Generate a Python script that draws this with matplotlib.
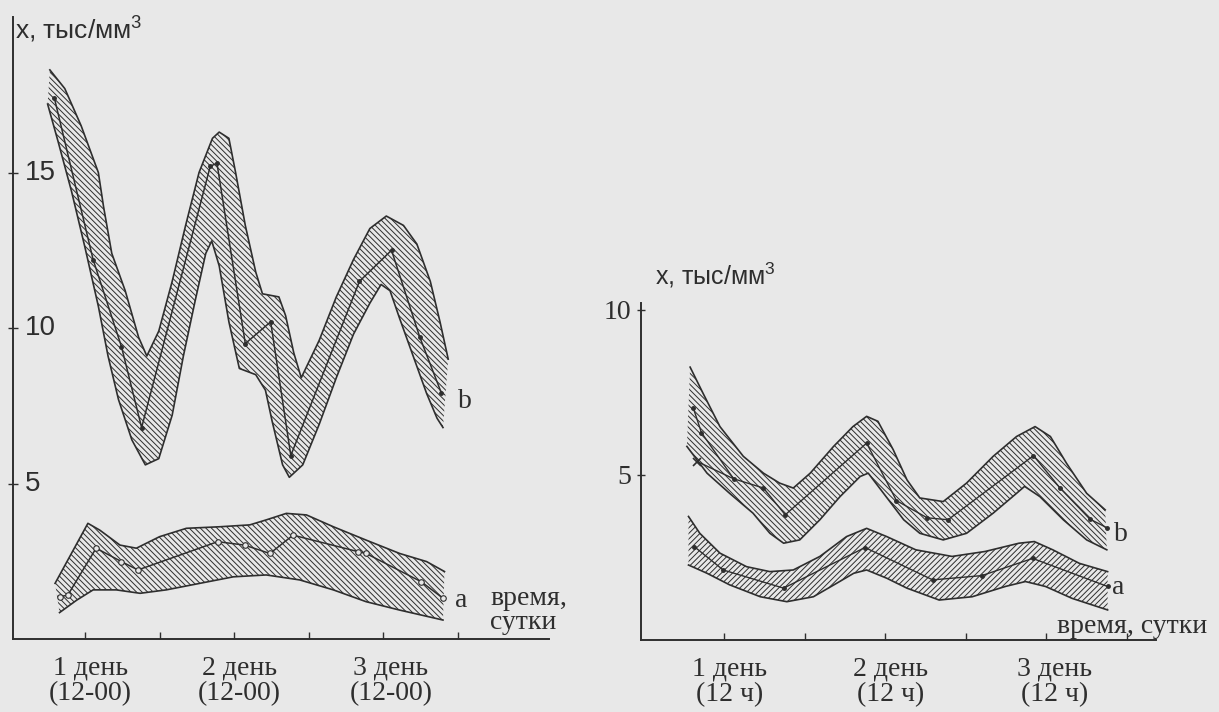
#!/usr/bin/env python
# -*- coding: utf-8 -*-

import matplotlib
matplotlib.use('Agg')
import matplotlib.pyplot as plt

INK = '#2e2e2e'
PAPER = '#e8e8e8'

# ---- left panel: x in half-days, y in тыс/мм3 ----
LB_X = [0.59, 1.11, 1.49, 1.76, 2.68, 2.77, 3.15, 3.49, 3.76, 4.68, 5.11, 5.49, 5.78]
LB_Y = [17.4, 12.2, 9.4, 6.8, 15.2, 15.3, 9.5, 10.2, 5.9, 11.5, 12.5, 9.7, 7.9]
LB_UX = [0.53, 0.73, 0.95, 1.18, 1.25, 1.36, 1.54, 1.72, 1.83, 1.99, 2.17, 2.35, 2.53, 2.71, 2.80,
         2.93, 3.02, 3.15, 3.29, 3.38, 3.60, 3.69, 3.80, 3.90, 4.14, 4.37, 4.60, 4.82, 5.04, 5.27,
         5.45, 5.63, 5.76, 5.87]
LB_UY = [18.3, 17.7, 16.5, 15.0, 13.9, 12.4, 11.2, 9.7, 9.1, 9.9, 11.5, 13.3, 15.0, 16.1, 16.3,
         16.1, 15.0, 13.3, 11.8, 11.1, 11.0, 10.4, 9.2, 8.4, 9.6, 11.0, 12.2, 13.2, 13.6, 13.3,
         12.7, 11.5, 10.2, 9.0]
LB_LX = [0.50, 0.64, 0.82, 1.00, 1.18, 1.31, 1.45, 1.63, 1.81, 1.99, 2.17, 2.32, 2.48, 2.62, 2.70,
         2.80, 2.93, 3.07, 3.29, 3.42, 3.51, 3.65, 3.74, 3.92, 4.14, 4.37, 4.60, 4.82, 4.97, 5.09,
         5.22, 5.40, 5.58, 5.72, 5.80]
LB_LY = [17.2, 16.0, 14.4, 12.6, 10.7, 9.1, 7.7, 6.4, 5.6, 5.8, 7.2, 9.1, 10.9, 12.4, 12.8,
         12.0, 10.2, 8.7, 8.5, 8.0, 7.0, 5.6, 5.2, 5.6, 6.9, 8.4, 9.8, 10.8, 11.4, 11.2,
         10.3, 9.1, 7.9, 7.1, 6.8]

LA_X = [0.66, 0.77, 1.15, 1.49, 1.71, 2.78, 3.14, 3.48, 3.79, 4.66, 4.77, 5.51, 5.80]
LA_Y = [1.36, 1.41, 2.92, 2.49, 2.22, 3.13, 3.02, 2.75, 3.34, 2.81, 2.75, 1.84, 1.31]
LA_UX = [0.60, 1.04, 1.20, 1.47, 1.69, 2.00, 2.36, 2.81, 3.21, 3.43, 3.70, 3.97, 4.33, 4.77, 5.22,
         5.58, 5.82]
LA_UY = [1.79, 3.72, 3.50, 3.02, 2.92, 3.29, 3.56, 3.61, 3.67, 3.83, 4.04, 3.99, 3.61, 3.18, 2.75,
         2.49, 2.17]
LA_LX = [0.66, 0.89, 1.11, 1.42, 1.74, 2.09, 2.54, 2.99, 3.43, 3.88, 4.33, 4.77, 5.22, 5.80]
LA_LY = [0.85, 1.25, 1.58, 1.58, 1.47, 1.58, 1.79, 2.00, 2.06, 1.90, 1.58, 1.20, 0.93, 0.61]

L_YTICKS = [5, 10, 15]
L_DAYS = ['1 день\n(12-00)', '2 день\n(12-00)', '3 день\n(12-00)']

# ---- right panel ----
RB_X = [0.62, 0.72, 1.12, 1.49, 1.76, 2.77, 3.14, 3.52, 3.78, 4.84, 5.17, 5.54, 5.75]
RB_Y = [7.02, 6.28, 4.88, 4.60, 3.79, 5.96, 4.22, 3.70, 3.64, 5.58, 4.60, 3.66, 3.40]
RB_ALT_X = [0.67, 1.12]
RB_ALT_Y = [5.40, 4.88]
RB_UX = [0.58, 0.74, 0.95, 1.24, 1.49, 1.69, 1.86, 2.07, 2.36, 2.60, 2.77, 2.91, 3.10, 3.27, 3.43,
         3.72, 4.01, 4.34, 4.63, 4.86, 5.05, 5.25, 5.50, 5.73]
RB_UY = [8.26, 7.47, 6.46, 5.56, 5.05, 4.75, 4.60, 5.05, 5.86, 6.46, 6.77, 6.62, 5.76, 4.85, 4.30,
         4.19, 4.75, 5.56, 6.16, 6.46, 6.16, 5.35, 4.44, 3.94]
RB_LX = [0.54, 0.79, 1.07, 1.36, 1.57, 1.74, 1.94, 2.19, 2.44, 2.69, 2.79, 2.98, 3.23, 3.43, 3.72,
         4.01, 4.34, 4.63, 4.73, 4.92, 5.21, 5.50, 5.75]
RB_LY = [5.86, 5.05, 4.44, 3.84, 3.23, 2.93, 3.03, 3.64, 4.34, 4.95, 5.05, 4.44, 3.64, 3.23, 3.03,
         3.23, 3.84, 4.44, 4.65, 4.34, 3.64, 3.03, 2.73]

RA_X = [0.63, 0.99, 1.74, 2.75, 3.59, 4.20, 4.83, 5.76]
RA_Y = [2.83, 2.12, 1.57, 2.80, 1.82, 1.95, 2.47, 1.62]
RA_UX = [0.56, 0.70, 0.95, 1.28, 1.57, 1.86, 2.19, 2.52, 2.77, 3.02, 3.38, 3.83, 4.24, 4.66, 4.85,
         5.08, 5.41, 5.76]
RA_UY = [3.74, 3.23, 2.63, 2.22, 2.07, 2.12, 2.53, 3.13, 3.38, 3.13, 2.73, 2.53, 2.68, 2.93, 2.98,
         2.73, 2.32, 2.07]
RA_LX = [0.56, 0.79, 1.07, 1.45, 1.78, 2.11, 2.40, 2.61, 2.77, 3.02, 3.27, 3.67, 4.08, 4.49, 4.74,
         4.99, 5.32, 5.76]
RA_LY = [2.27, 2.02, 1.67, 1.31, 1.16, 1.31, 1.72, 2.02, 2.12, 1.87, 1.57, 1.21, 1.31, 1.62, 1.77,
         1.62, 1.26, 0.91]

R_YTICKS = [5, 10]
R_DAYS = ['1 день\n(12 ч)', '2 день\n(12 ч)', '3 день\n(12 ч)']

TICKS = [1, 2, 3, 4, 5, 6]
DAY_POS = [1.07, 3.07, 5.1]

SANS = 'Liberation Sans'
SERIF = 'Liberation Serif'
HEADER = r'x, тыс/мм$^3$'


def band(ax, ux, uy, lx, ly, hatch):
    xs = list(ux) + list(lx)[::-1]
    ys = list(uy) + list(ly)[::-1]
    ax.fill(xs, ys, facecolor='none', edgecolor=INK, hatch=hatch, linewidth=0)
    ax.plot(ux, uy, color=INK, lw=1.2)
    ax.plot(lx, ly, color=INK, lw=1.2)


def setup_axes(ax, xlim, ylim):
    ax.set_facecolor('none')
    ax.set_xlim(*xlim)
    ax.set_ylim(*ylim)
    for side in ('top', 'right'):
        ax.spines[side].set_visible(False)
    for side in ('left', 'bottom'):
        ax.spines[side].set_color(INK)
        ax.spines[side].set_linewidth(1.4)
    ax.set_xticks(TICKS)
    ax.set_xticklabels([])
    ax.tick_params(axis='x', which='major', direction='in', length=5, width=1, color=INK)
    ax.set_xticks(DAY_POS, minor=True)
    ax.tick_params(axis='x', which='minor', length=0, pad=12, labelsize=20, labelcolor=INK)


def left_panel(fig):
    ax = fig.add_axes([0.0103, 0.1025, 0.4400, 0.8736])
    setup_axes(ax, (0.03, 7.22), (0, 20))

    band(ax, LB_UX, LB_UY, LB_LX, LB_LY, '\\' * 6)
    band(ax, LA_UX, LA_UY, LA_LX, LA_LY, '\\' * 6)
    ax.plot(LB_X, LB_Y, color=INK, lw=1.1, marker='o', ms=2.5)
    ax.plot(LA_X, LA_Y, color=INK, lw=1.1, marker='o', ms=4, mfc=PAPER, mew=0.8)

    ax.set_yticks(L_YTICKS)
    ax.set_yticklabels([])
    ax.tick_params(axis='y', direction='inout', length=7, width=1, color=INK)
    for v in L_YTICKS:
        ax.annotate(str(v), xy=(0, v), xycoords=ax.get_yaxis_transform(),
                    xytext=(9, 0), textcoords='offset points', ha='left', va='center',
                    fontsize=20, family=SANS, color=INK)

    ax.set_xticklabels(L_DAYS, minor=True, family=SERIF, linespacing=1.0)

    ax.text(6.0, 7.65, 'b', fontsize=20, family=SERIF, color=INK, ha='left', va='center')
    ax.text(5.96, 1.25, 'a', fontsize=20, family=SERIF, color=INK, ha='left', va='center')
    ax.text(6.43, 0.93, 'время,\nсутки', fontsize=20, family=SERIF, color=INK,
            ha='left', va='center', linespacing=0.95)
    fig.text(0.0125, 0.958, HEADER, fontsize=19, family=SANS, color=INK,
             ha='left', va='center')


def right_panel(fig):
    ax = fig.add_axes([0.5258, 0.1011, 0.4225, 0.4733])
    setup_axes(ax, (-0.03, 6.36), (0, 10.2))

    band(ax, RB_UX, RB_UY, RB_LX, RB_LY, '\\' * 6)
    band(ax, RA_UX, RA_UY, RA_LX, RA_LY, '/' * 6)
    ax.plot(RB_X, RB_Y, color=INK, lw=1.0, marker='o', ms=2.5)
    ax.plot(RB_ALT_X, RB_ALT_Y, color=INK, lw=1.0)
    ax.plot(RB_ALT_X[:1], RB_ALT_Y[:1], ls='none', marker='x', ms=6, mew=1.2, color=INK)
    ax.plot(RA_X, RA_Y, color=INK, lw=1.0, marker='o', ms=2.5)

    ax.set_yticks(R_YTICKS)
    ax.set_yticklabels([str(v) for v in R_YTICKS], family=SERIF)
    ax.tick_params(axis='y', direction='inout', length=6, width=1, color=INK,
                   pad=4, labelsize=20, labelcolor=INK)

    ax.set_xticklabels(R_DAYS, minor=True, family=SERIF, linespacing=1.0)

    ax.text(5.84, 3.18, 'b', fontsize=20, family=SERIF, color=INK, ha='left', va='center')
    ax.text(5.81, 1.58, 'a', fontsize=20, family=SERIF, color=INK, ha='left', va='center')
    ax.text(5.13, 0.42, 'время, сутки', fontsize=20, family=SERIF, color=INK,
            ha='left', va='center')
    fig.text(0.537, 0.614, HEADER, fontsize=18, family=SANS, color=INK,
             ha='left', va='center')


def main():
    plt.rcParams['hatch.linewidth'] = 0.7
    plt.rcParams['mathtext.fontset'] = 'custom'
    plt.rcParams['mathtext.rm'] = SANS
    plt.rcParams['mathtext.it'] = SANS
    plt.rcParams['mathtext.default'] = 'rm'
    fig = plt.figure(figsize=(12.19, 7.12), dpi=100, facecolor=PAPER)
    left_panel(fig)
    right_panel(fig)
    fig.savefig('out.png', dpi=100, facecolor=PAPER)


if __name__ == '__main__':
    main()
